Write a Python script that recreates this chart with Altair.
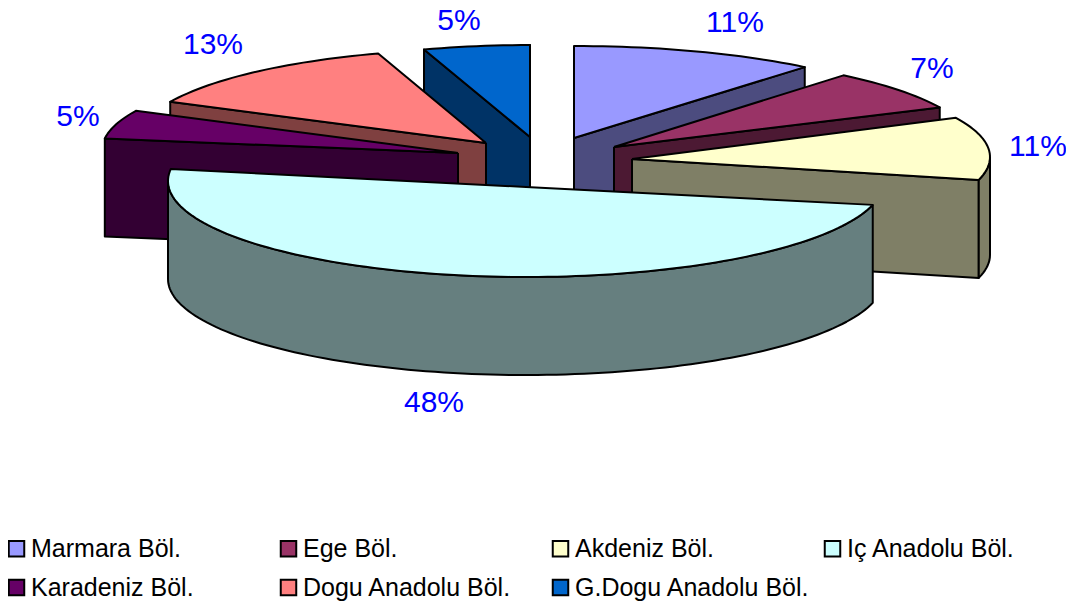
import math
import altair as alt
import pandas as pd

# --- chart values ---
categories = ["Marmara Böl.", "Ege Böl.", "Akdeniz Böl.", "Iç Anadolu Böl.",
              "Karadeniz Böl.", "Dogu Anadolu Böl.", "G.Dogu Anadolu Böl."]
shares = [11, 7, 11, 48, 5, 13, 5]
top_colors = ["#9999FF", "#993366", "#FFFFCC", "#CCFFFF", "#660066", "#FF8080", "#0066CC"]
side_colors = ["#4C4C7F", "#4C1933", "#7F7F66", "#667F7F", "#330033", "#7F4040", "#003366"]

# --- drawing geometry of the exploded 3-D pie (pixels) ---
apex = [(574, 138), (614, 147), (632, 159), (526, 187), (458, 153), (486, 143), (530, 137)]
arc_dy = [0, 0, -2, -6, -3, -2, 0]
radius_x = [362, 360, 358, 358, 356, 349, 343]
radius_y = [92, 93, 92, 96, 92, 92, 92]
depth = 98
paint_order = [6, 5, 4, 0, 1, 2, 3]
label_pos = [(735, 23), (932, 69), (1038, 147), (434, 403), (78, 117), (213, 45), (459, 21)]

edges = [0.0]
for s in shares:
    edges.append(edges[-1] + s * 3.6)

rows = []
seq = [0]


def add_face(name, key, pts):
    for px, py in pts + pts[:1]:
        rows.append({"face": name, "key": key, "px": px, "py": py, "seq": seq[0]})
        seq[0] += 1


for i in paint_order:
    a0, a1 = edges[i], edges[i + 1]
    ax, ay = apex[i]
    cat = categories[i]
    side = cat + " yan"

    def rim(a, drop=0.0):
        t = math.radians(a)
        return (ax + radius_x[i] * math.sin(t),
                ay + arc_dy[i] - radius_y[i] * math.cos(t) + drop)

    # visible radial faces
    if math.sin(math.radians(a1)) > 0:
        e = rim(a1)
        add_face(f"{i}r1", side, [(ax, ay), e, (e[0], e[1] + depth), (ax, ay + depth)])
    if math.sin(math.radians(a0)) < -1e-9:
        e = rim(a0)
        add_face(f"{i}r0", side, [(ax, ay), e, (e[0], e[1] + depth), (ax, ay + depth)])

    # visible outer wall
    w0, w1 = max(a0, 90.0), min(a1, 270.0)
    if w1 > w0:
        n = max(2, int((w1 - w0) / 1.5))
        steps = [w0 + (w1 - w0) * k / n for k in range(n + 1)]
        add_face(f"{i}w", side, [rim(a) for a in steps] + [rim(a, depth) for a in reversed(steps)])

    # top face
    n = max(2, int((a1 - a0) / 1.5))
    steps = [a0 + (a1 - a0) * k / n for k in range(n + 1)]
    add_face(f"{i}t", cat, [(ax, ay)] + [rim(a) for a in steps])

faces = pd.DataFrame(rows)
labels = pd.DataFrame({
    "text": [f"{s}%" for s in shares],
    "px": [p[0] for p in label_pos],
    "py": [p[1] for p in label_pos],
})

x_scale = alt.Scale(domain=[8, 1066], nice=False, zero=False)
y_scale = alt.Scale(domain=[604, 8], nice=False, zero=False)

fill_scale = alt.Scale(domain=categories + [c + " yan" for c in categories],
                       range=top_colors + side_colors)

pie = alt.Chart(faces).mark_line(stroke="black", strokeWidth=2, strokeJoin="round", interpolate="linear").encode(
    x=alt.X("px:Q", scale=x_scale, axis=None),
    y=alt.Y("py:Q", scale=y_scale, axis=None),
    fill=alt.Fill("key:N", scale=fill_scale, legend=alt.Legend(
        values=categories, title=None, orient="none", legendX=-4, legendY=528,
        direction="horizontal", columns=4, gridAlign="all", columnPadding=10, rowPadding=13, padding=0,
        symbolType="square", symbolSize=240, symbolStrokeColor="black", symbolStrokeWidth=2,
        symbolOpacity=1, symbolOffset=0, labelFont="Liberation Sans", labelFontSize=25, labelColor="black",
        labelOffset=2, labelLimit=400,
    )),
    detail="face:N",
    order=alt.Order("seq:Q"),
)

text = alt.Chart(labels).mark_text(font="Liberation Sans", fontSize=30, color="#0000FF", align="center", baseline="middle").encode(
    x=alt.X("px:Q", scale=x_scale, axis=None),
    y=alt.Y("py:Q", scale=y_scale, axis=None),
    text="text:N",
)

chart = (pie + text).properties(
    width=1058, height=596, padding=0, autosize=alt.AutoSizeParams(type="none"),
).configure_view(stroke=None)

chart.save("out.html", embed_options={"renderer": "svg", "actions": False})
